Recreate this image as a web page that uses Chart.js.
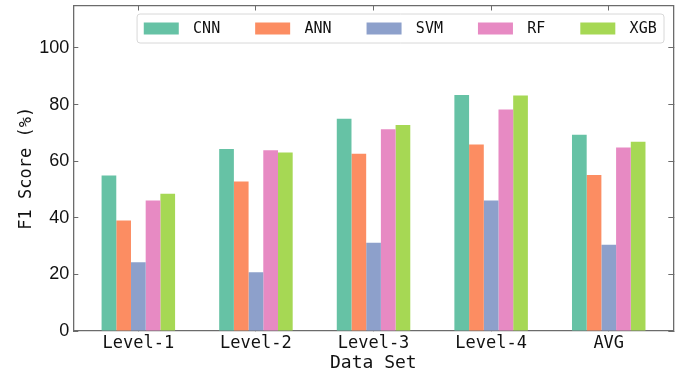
<!DOCTYPE html>
<html>
<head>
<meta charset="utf-8">
<script src="https://cdn.jsdelivr.net/npm/chart.js@4.4.0/dist/chart.umd.min.js"></script>
<style>
  html, body { margin: 0; padding: 0; background: #fff; }
  #wrap { width: 683px; height: 378px; }
</style>
</head>
<body>
<div id="wrap"><canvas id="chart"></canvas></div>
<script>
// Données (F1 score en %)
const dataSets = ['Level-1', 'Level-2', 'Level-3', 'Level-4', 'AVG'];
const models = ['CNN', 'ANN', 'SVM', 'RF', 'XGB'];
const cnn = [54.9, 64.3, 75.0, 83.4, 69.3];
const ann = [39.0, 52.8, 62.6, 65.9, 55.1];
const svm = [24.3, 20.8, 31.2, 46.1, 30.5];
const rf  = [46.1, 63.9, 71.3, 78.3, 64.8];
const xgb = [48.5, 63.1, 72.8, 83.2, 66.9];
const yTicks = [0, 20, 40, 60, 80, 100];
const colors = ['#66c2a5', '#fc8d62', '#8da0cb', '#e78ac3', '#a6d854'];

const axisColor = '#6b6b6b';
const mono = 'DejaVu Sans Mono';

// chaque série -> points {x: index, y: valeur}
function toPoints(values) {
    return values.map((v, i) => ({ x: i, y: v }));
}

// Légende encadrée à l'intérieur du graphique (en haut à droite)
const insideLegend = {
    id: 'insideLegend',
    afterDraw(chart) {
        const ctx = chart.ctx;
        const area = chart.chartArea;
        const sw = 35, sh = 12, gap = 14.3, colGap = 35, padL = 6.7, padR = 7.3;
        ctx.save();
        ctx.font = '15px "' + mono + '"';
        const widths = chart.data.datasets.map(d => ctx.measureText(d.label).width);
        let total = padL + padR;
        widths.forEach((w, i) => { total += sw + gap + w + (i < widths.length - 1 ? colGap : 0); });
        const right = area.right - 9.3;
        const left = right - total;
        const top = area.top + 8.5;
        const h = 29;

        ctx.beginPath();
        ctx.roundRect(left, top, total, h, 3);
        ctx.fillStyle = 'rgba(255,255,255,0.85)';
        ctx.fill();
        ctx.strokeStyle = '#d8d8d8';
        ctx.lineWidth = 1;
        ctx.stroke();

        let x = left + padL;
        const cy = top + h / 2;
        chart.data.datasets.forEach((d, i) => {
            ctx.fillStyle = d.backgroundColor;
            ctx.fillRect(x, cy - sh / 2, sw, sh);
            ctx.fillStyle = '#111';
            ctx.textBaseline = 'middle';
            ctx.textAlign = 'left';
            ctx.fillText(d.label, x + sw + gap, cy + 1);
            x += sw + gap + widths[i] + colGap;
        });
        ctx.restore();
    }
};

const seriesValues = [cnn, ann, svm, rf, xgb];

const tickGrid = {
    display: true,
    drawOnChartArea: false,
    drawTicks: true,
    tickLength: -5,
    offset: false,
    color: axisColor,
    lineWidth: 1
};
const frame = { display: true, color: axisColor, width: 1.3 };

// tailles d'axes fixées à la main pour caler la zone de tracé
function fixSize(prop, size) {
    return function(scale) {
        scale[prop] = size;
        scale.paddingTop = 0;
        scale.paddingBottom = 0;
        scale.paddingLeft = 0;
        scale.paddingRight = 0;
    };
}

new Chart(document.getElementById('chart'), {
    type: 'bar',
    data: {
        datasets: models.map((m, i) => ({
            label: m,
            data: toPoints(seriesValues[i]),
            backgroundColor: colors[i],
            borderWidth: 0,
            categoryPercentage: 0.625,
            barPercentage: 1.0
        }))
    },
    options: {
        responsive: true,
        maintainAspectRatio: false,
        animation: false,
        devicePixelRatio: 1,
        layout: { padding: { left: 0, right: 9.7, top: 5.5, bottom: 0 } },
        plugins: {
            legend: { display: false },
            tooltip: { enabled: false }
        },
        scales: {
            x: {
                type: 'linear',
                position: 'bottom',
                offset: false,
                min: -0.553,
                max: 4.549,
                afterBuildTicks: s => { s.ticks = dataSets.map((_, i) => ({ value: i })); },
                afterFit: fixSize('height', 47),
                grid: tickGrid,
                border: frame,
                ticks: {
                    callback: v => dataSets[v],
                    font: { family: mono, size: 17 },
                    color: '#111',
                    padding: 7,
                    maxRotation: 0
                },
                title: {
                    display: true,
                    text: 'Data Set',
                    font: { family: mono, size: 18 },
                    color: '#111',
                    padding: { top: 0, bottom: 3.7 }
                }
            },
            x2: {
                type: 'linear',
                position: 'top',
                offset: false,
                min: -0.553,
                max: 4.549,
                afterBuildTicks: s => { s.ticks = dataSets.map((_, i) => ({ value: i })); },
                afterFit: fixSize('height', 0),
                grid: tickGrid,
                border: frame,
                ticks: { display: false }
            },
            y: {
                position: 'left',
                min: 0,
                max: 115,
                afterBuildTicks: s => { s.ticks = yTicks.map(v => ({ value: v })); },
                afterFit: fixSize('width', 73.3),
                grid: tickGrid,
                border: frame,
                ticks: {
                    font: { family: 'Liberation Sans', size: 18 },
                    color: '#111',
                    padding: 9
                },
                title: {
                    display: true,
                    text: 'F1 Score (%)',
                    font: { family: mono, size: 17 },
                    color: '#111',
                    padding: { top: 16.5, bottom: 0 }
                }
            },
            y2: {
                position: 'right',
                min: 0,
                max: 115,
                afterBuildTicks: s => { s.ticks = yTicks.map(v => ({ value: v })); },
                afterFit: fixSize('width', 0),
                grid: tickGrid,
                border: frame,
                ticks: { display: false }
            }
        }
    },
    plugins: [insideLegend]
});
</script>
</body>
</html>
